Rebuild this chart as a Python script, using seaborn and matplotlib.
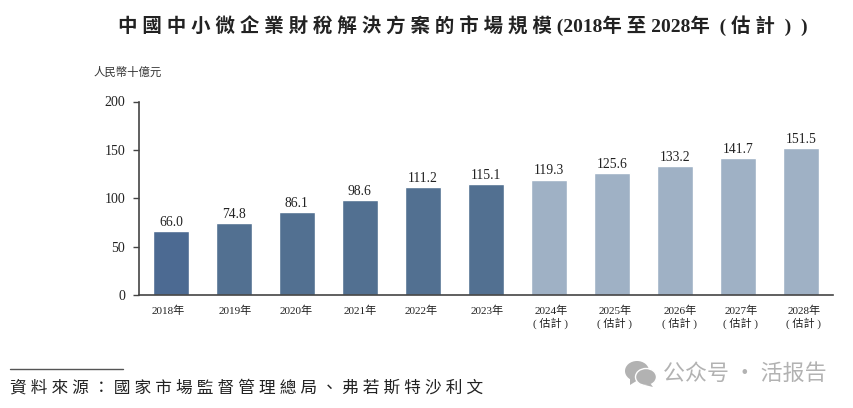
import matplotlib
matplotlib.use("Agg")
import matplotlib.pyplot as plt
import pandas as pd
import seaborn as sns
from matplotlib.patches import Ellipse, Polygon
from matplotlib.transforms import ScaledTranslation

years = ["2018年", "2019年", "2020年", "2021年", "2022年", "2023年",
         "2024年\n( 估計 )", "2025年\n( 估計 )", "2026年\n( 估計 )", "2027年\n( 估計 )", "2028年\n( 估計 )"]
values = [66.0, 74.8, 86.1, 98.6, 111.2, 115.1, 119.3, 125.6, 133.2, 141.7, 151.5]
bar_colors = ["#4c6a92", "#527091", "#527091", "#527091", "#527091", "#527091",
              "#9fb1c5", "#9fb1c5", "#9fb1c5", "#9fb1c5", "#9fb1c5"]
y_ticks = [0, 50, 100, 150, 200]
# the labels in the source are not quite centred under the bars (pixels)
label_nudge = [-3, 1, -1, 0, -2, 1, 2, 3, 5, 3, 3]

title = "中 國 中 小 微 企 業 財 稅 解 決 方 案 的 市 場 規 模 (2018年 至 2028年  ( 估 計  )  )"
unit = "人民幣十億元"
source = "資 料 來 源 ： 國 家 市 場 監 督 管 理 總 局 、 弗 若 斯 特 沙 利 文"
watermark = "公众号 · 活报告"

sns.set_theme(style="white")
plt.rcParams["font.family"] = ["Liberation Serif", "Noto Sans CJK TC", "DejaVu Sans"]

W, H = 854, 408
fig = plt.figure(figsize=(W / 100, H / 100), dpi=100)
ax = fig.add_axes([139 / W, 1 - 295 / H, (833 - 139) / W, (295 - 101.5) / H])

df = pd.DataFrame({"year": years, "value": values})
sns.barplot(data=df, x="year", y="value", hue="year", palette=bar_colors,
            legend=False, width=0.57, saturation=1, ax=ax)

ax.set_xlim(-0.505, 10.51)
ax.set_ylim(0, 200)
ax.set_yticks(y_ticks)
ax.set_xlabel("")
ax.set_ylabel("")
ax.spines["top"].set_visible(False)
ax.spines["right"].set_visible(False)
for s in ["left", "bottom"]:
    ax.spines[s].set_color("#444444")
    ax.spines[s].set_linewidth(1.2)
ax.tick_params(axis="y", left=True, length=4, width=1, color="#444444",
               labelsize=10, labelcolor="#222222", pad=6)
ax.tick_params(axis="x", bottom=False, labelsize=8, labelcolor="#222222", pad=1.5)
for lab, dx in zip(ax.get_xticklabels(), label_nudge):
    lab.set_linespacing(1.2)
    lab.set_transform(lab.get_transform() + ScaledTranslation(dx / 100, 0, fig.dpi_scale_trans))

for c in ax.containers:
    ax.bar_label(c, fmt="%.1f", fontsize=9.8, color="#222222", padding=1.5)

fig.text(118 / W, 1 - 26 / H, title, fontsize=14, fontweight="bold",
         color="#222222", ha="left", va="center")
fig.text(94 / W, 1 - 72 / H, unit, fontsize=8.2, color="#333333", ha="left", va="center")
fig.text(10 / W, 1 - 388 / H, source, fontsize=12, style="italic",
         color="#222222", ha="left", va="center")
fig.add_artist(plt.Line2D([10 / W, 123 / W], [1 - 369 / H, 1 - 369 / H], color="#555555", lw=1))

# watermark: wechat style icon and text
overlay = fig.add_axes([0, 0, 1, 1], facecolor="none")
overlay.set_xlim(0, W)
overlay.set_ylim(H, 0)
overlay.axis("off")
overlay.add_patch(Ellipse((637, 371), 24, 20, color="#b2b2b2", lw=0))
overlay.add_patch(Polygon([(630, 378), (630, 385), (638, 380)], color="#b2b2b2", lw=0))
overlay.add_patch(Ellipse((646, 377), 21, 17, facecolor="#b2b2b2", edgecolor="white", lw=1))
overlay.add_patch(Polygon([(650, 383), (653, 387), (645, 385)], color="#b2b2b2", lw=0))
overlay.text(663, 374, watermark, fontsize=15.8, color="#b2b2b2", ha="left", va="center",
             family=["Noto Sans CJK SC", "DejaVu Sans"])

fig.savefig("out.png", dpi=100)
